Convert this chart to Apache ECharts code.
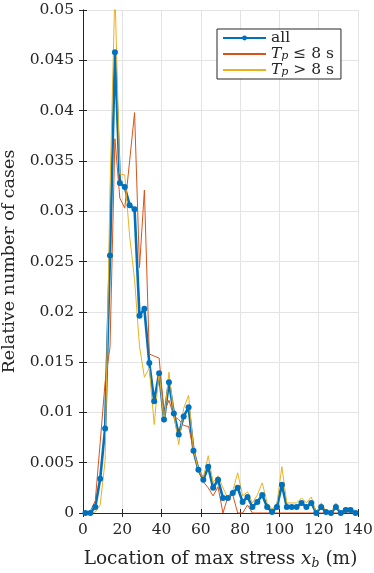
<!DOCTYPE html>
<html>
<head>
<meta charset="utf-8">
<script src="https://cdn.jsdelivr.net/npm/echarts@6/dist/echarts.min.js"></script>
<style>
html, body { margin: 0; padding: 0; background: #fff; }
#main { width: 374px; height: 573px; }
</style>
</head>
<body>
<div id="main"></div>
<script>
// bin centres of max stress location (m), 2.5 m bins
var binCenters = [1.25, 3.75, 6.25, 8.75, 11.25, 13.75, 16.25, 18.75, 21.25, 23.75,
    26.25, 28.75, 31.25, 33.75, 36.25, 38.75, 41.25, 43.75, 46.25, 48.75,
    51.25, 53.75, 56.25, 58.75, 61.25, 63.75, 66.25, 68.75, 71.25, 73.75,
    76.25, 78.75, 81.25, 83.75, 86.25, 88.75, 91.25, 93.75, 96.25, 98.75,
    101.25, 103.75, 106.25, 108.75, 111.25, 113.75, 116.25, 118.75, 121.25, 123.75,
    126.25, 128.75, 131.25, 133.75, 136.25, 138.75];

// all cases
var allCases = [0, 0, 0.0006, 0.0034, 0.0084, 0.0256, 0.0458, 0.0328, 0.0324, 0.0306,
    0.0302, 0.0196, 0.0203, 0.0149, 0.0111, 0.0139, 0.0093, 0.0130, 0.0099, 0.0078,
    0.0096, 0.0105, 0.0062, 0.0043, 0.0033, 0.0046, 0.0025, 0.0033, 0.0015, 0.0015,
    0.0020, 0.0025, 0.0011, 0.0016, 0.0006, 0.0011, 0.0018, 0.0006, 0.0001, 0.0006,
    0.0028, 0.0006, 0.0006, 0.0006, 0.0010, 0.0006, 0.0010, 0, 0.0006, 0.0001,
    0, 0.0006, 0, 0.0003, 0.0003, 0];

// Tp <= 8 s
var shortPeriod = [0, 0.0002, 0.0012, 0.0070, 0.0130, 0.0165, 0.0372, 0.0313, 0.0303, 0.0350,
    0.0398, 0.0244, 0.0321, 0.0158, 0.0156, 0.0154, 0.0100, 0.0112, 0.0096, 0.0093,
    0.0087, 0.0086, 0.0063, 0.0043, 0.0031, 0.0025, 0.0017, 0.0026, 0, 0.0016,
    0.0018, 0, 0, 0.0008, 0, 0, 0, 0, 0, 0,
    0, 0, 0, 0, 0, 0, 0, 0, 0, 0,
    0, 0, 0, 0, 0, 0];

// Tp > 8 s
var longPeriod = [0, 0, 0.0001, 0.0008, 0.0052, 0.0322, 0.0520, 0.0337, 0.0336, 0.0275,
    0.0232, 0.0166, 0.0135, 0.0144, 0.0088, 0.0141, 0.0090, 0.0140, 0.0098, 0.0068,
    0.0104, 0.0117, 0.0063, 0.0043, 0.0035, 0.0057, 0.0030, 0.0037, 0.0025, 0.0015,
    0.0022, 0.0040, 0.0017, 0.0021, 0.0010, 0.0018, 0.0030, 0.0010, 0.0004, 0.0010,
    0.0046, 0.0010, 0.0010, 0.0010, 0.0015, 0.0010, 0.0016, 0, 0.0010, 0.0002,
    0, 0.0010, 0, 0.0005, 0.0005, 0];

var font = '"DejaVu Serif", "Liberation Serif", serif';
var ink = '#262626';
var fs = 15.5;
var titleFs = 17.5;
var xTitleFs = 18.5;

function pairs(ys) {
    var out = [];
    for (var i = 0; i < binCenters.length; i++) {
        out.push([binCenters[i], ys[i]]);
    }
    return out;
}

var legendText = {
    'all': 'all',
    'short': '{i|T}{s|p} ≤ 8 s',
    'long': '{i|T}{s|p} > 8 s'
};

var richText = {
    i: { fontFamily: font, fontStyle: 'italic', fontSize: fs, color: ink },
    s: { fontFamily: font, fontStyle: 'italic', fontSize: 11, color: ink, verticalAlign: 'bottom', padding: [7, 0, 0, 0] }
};

var chart = echarts.init(document.getElementById('main'));
var option = {
    animation: false,
    backgroundColor: '#fff',
    grid: { left: 83, right: 16, top: 10, bottom: 60, containLabel: false, outerBoundsMode: 'none' },
    legend: {
        data: [
            { name: 'all' },
            { name: 'short', itemStyle: { opacity: 0 } },
            { name: 'long', itemStyle: { opacity: 0 } }
        ],
        orient: 'vertical',
        left: 217,
        top: 29,
        backgroundColor: '#fff',
        borderColor: ink,
        borderWidth: 1,
        borderRadius: 0,
        padding: [1, 7, 1, 5],
        itemGap: 0,
        itemWidth: 43,
        itemHeight: 6,
        textStyle: { fontFamily: font, fontSize: fs, color: ink, lineHeight: 16, rich: richText },
        formatter: function (name) { return legendText[name]; }
    },
    xAxis: [{
        type: 'value',
        min: 0, max: 140, interval: 20,
        name: 'Location of max stress {i|x}{s|b} (m)',
        nameLocation: 'middle',
        nameGap: 36,
        nameTextStyle: {
            fontFamily: font, fontSize: xTitleFs, color: ink,
            rich: {
                i: { fontFamily: font, fontStyle: 'italic', fontSize: xTitleFs, color: ink },
                s: { fontFamily: font, fontStyle: 'italic', fontSize: 12.5, color: ink, verticalAlign: 'bottom', padding: [8, 0, 0, 0] }
            }
        },
        axisLine: { show: true, lineStyle: { color: ink, width: 1 } },
        axisTick: { show: true, inside: true, length: 4, lineStyle: { color: ink } },
        axisLabel: { fontFamily: font, fontSize: fs, color: ink, margin: 9 },
        splitLine: { show: true, lineStyle: { color: '#e3e3e3', width: 1 } }
    }, {
        type: 'value',
        position: 'top',
        min: 0, max: 140, interval: 20,
        axisLine: { show: true, lineStyle: { color: ink, width: 1 } },
        axisTick: { show: true, inside: true, length: 4, lineStyle: { color: ink } },
        axisLabel: { show: false },
        splitLine: { show: false }
    }],
    yAxis: [{
        type: 'value',
        min: 0, max: 0.05, interval: 0.005,
        name: 'Relative number of cases',
        nameLocation: 'middle',
        nameGap: 64,
        nameTextStyle: { fontFamily: font, fontSize: titleFs, color: ink },
        axisLine: { show: true, lineStyle: { color: ink, width: 1 } },
        axisTick: { show: true, inside: true, length: 4, lineStyle: { color: ink } },
        axisLabel: { fontFamily: font, fontSize: fs, color: ink, margin: 9 },
        splitLine: { show: true, lineStyle: { color: '#e3e3e3', width: 1 } }
    }, {
        type: 'value',
        position: 'right',
        min: 0, max: 0.05, interval: 0.005,
        axisLine: { show: true, lineStyle: { color: ink, width: 1 } },
        axisTick: { show: true, inside: true, length: 4, lineStyle: { color: ink } },
        axisLabel: { show: false },
        splitLine: { show: false }
    }],
    series: [{
        name: 'all',
        type: 'line',
        data: pairs(allCases),
        color: '#0072BD',
        lineStyle: { width: 2.6, color: '#0072BD' },
        itemStyle: { color: '#0072BD' },
        symbol: 'circle',
        symbolSize: 6,
        showAllSymbol: true,
        clip: true
    }, {
        name: 'short',
        type: 'line',
        data: pairs(shortPeriod),
        color: '#D95319',
        lineStyle: { width: 1, color: '#D95319' },
        symbol: 'none',
        clip: true
    }, {
        name: 'long',
        type: 'line',
        data: pairs(longPeriod),
        color: '#EDB120',
        lineStyle: { width: 1, color: '#EDB120' },
        symbol: 'none',
        clip: true
    }]
};
chart.setOption(option);
</script>
</body>
</html>
